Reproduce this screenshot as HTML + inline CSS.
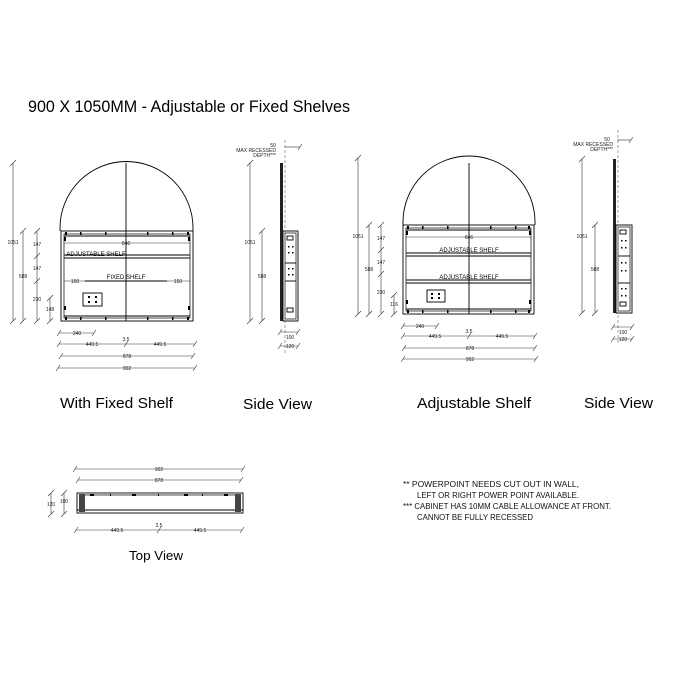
<!DOCTYPE html>
<html><head><meta charset="utf-8"><style>
html,body{margin:0;padding:0;background:#fff;}
svg{display:block;font-family:"Liberation Sans",Arial,sans-serif;}
.l{stroke:#000;stroke-width:0.9;fill:none}
.t{stroke:#000;stroke-width:0.7;fill:none}
.d{stroke:#333;stroke-width:0.6;fill:none}
.n{font-size:5px;fill:#222;text-anchor:middle}
</style></head><body>
<svg width="675" height="675" viewBox="0 0 675 675">
<text x="28" y="112" font-size="17" textLength="322" lengthAdjust="spacingAndGlyphs">900 X 1050MM - Adjustable or Fixed Shelves</text>

<!-- LEFT FRONT -->
<path class="l" d="M60 231 L60 228 A66 66 0 0 1 193 228 L193 231"/>
<rect class="l" x="61" y="231" width="132" height="90" stroke-width="1.6"/>
<rect class="t" x="64" y="234" width="126" height="84"/>
<line class="l" x1="64" y1="236" x2="190" y2="236"/><line class="l" x1="64" y1="316" x2="190" y2="316"/>
<g fill="#000">
<rect x="65" y="232" width="2" height="3"/><rect x="80" y="232" width="1.5" height="3"/><rect x="105" y="232" width="1.5" height="3"/><rect x="147" y="232" width="1.5" height="3"/><rect x="172" y="232" width="1.5" height="3"/><rect x="187" y="232" width="2" height="3"/>
<rect x="65" y="317" width="2" height="3"/><rect x="80" y="317" width="1.5" height="3"/><rect x="105" y="317" width="1.5" height="3"/><rect x="147" y="317" width="1.5" height="3"/><rect x="172" y="317" width="1.5" height="3"/><rect x="187" y="317" width="2" height="3"/>
<rect x="64" y="237" width="2" height="4"/><rect x="188" y="237" width="2" height="4"/><rect x="64" y="306" width="2" height="4"/><rect x="188" y="306" width="2" height="4"/>
</g>
<line class="l" x1="126" y1="163" x2="126" y2="321"/>
<line class="l" x1="64" y1="255" x2="190" y2="255"/><line class="l" x1="64" y1="258" x2="190" y2="258"/>
<line class="l" x1="85" y1="281" x2="167" y2="281" stroke-width="1.8"/>
<rect class="l" x="83" y="293" width="19" height="13"/>
<g fill="#000"><rect x="88" y="296" width="2" height="2"/><rect x="95" y="296" width="2" height="2"/><rect x="88" y="301" width="2" height="2"/><rect x="95" y="301" width="2" height="2"/></g>
<text x="96" y="256" font-size="6" text-anchor="middle">ADJUSTABLE SHELF</text>
<text x="126" y="279" font-size="6" text-anchor="middle">FIXED SHELF</text>
<line class="d" x1="64" y1="243" x2="190" y2="243"/><text class="n" x="126" y="245">846</text>
<line class="d" x1="64" y1="281" x2="85" y2="281"/><text class="n" x="75" y="283">150</text>
<line class="d" x1="167" y1="281" x2="190" y2="281"/><text class="n" x="178" y="283">150</text>
<g class="d">
<line x1="13" y1="163" x2="13" y2="321"/><line x1="10" y1="166" x2="16" y2="160"/><line x1="10" y1="324" x2="16" y2="318"/>
<line x1="23" y1="231" x2="23" y2="321"/><line x1="20" y1="234" x2="26" y2="228"/><line x1="20" y1="324" x2="26" y2="318"/>
<line x1="37" y1="231" x2="37" y2="321"/><line x1="34" y1="234" x2="40" y2="228"/><line x1="34" y1="259" x2="40" y2="253"/><line x1="34" y1="284" x2="40" y2="278"/><line x1="34" y1="324" x2="40" y2="318"/>
<line x1="50" y1="298" x2="50" y2="321"/><line x1="47" y1="301" x2="53" y2="295"/><line x1="47" y1="324" x2="53" y2="318"/>
</g>
<text class="n" x="13" y="244">1051</text><text class="n" x="23" y="278">588</text>
<text class="n" x="37" y="246">147</text><text class="n" x="37" y="270">147</text><text class="n" x="37" y="301">230</text><text class="n" x="50" y="311">148</text>
<g class="d">
<line x1="59" y1="333" x2="94" y2="333"/><line x1="57" y1="336" x2="61" y2="330"/><line x1="92" y1="336" x2="96" y2="330"/>
<line x1="59" y1="344" x2="195" y2="344"/><line x1="57" y1="347" x2="61" y2="341"/><line x1="124" y1="347" x2="128" y2="341"/><line x1="193" y1="347" x2="197" y2="341"/>
<line x1="61" y1="356" x2="193" y2="356"/><line x1="59" y1="359" x2="63" y2="353"/><line x1="191" y1="359" x2="195" y2="353"/>
<line x1="58" y1="368" x2="195" y2="368"/><line x1="56" y1="371" x2="60" y2="365"/><line x1="193" y1="371" x2="197" y2="365"/>
</g>
<text class="n" x="77" y="335">240</text><text class="n" x="92" y="346">449.5</text><text class="n" x="160" y="346">449.5</text><text class="n" x="126" y="341">3.5</text>
<text class="n" x="127" y="358">878</text><text class="n" x="127" y="370">902</text>

<!-- LEFT SIDE -->
<rect x="280" y="163" width="3" height="158" fill="#222"/>
<rect class="l" x="283" y="231" width="15" height="90" stroke-width="1.6"/>
<rect class="t" x="285" y="233" width="11" height="86"/>
<line class="l" x1="285" y1="263" x2="296" y2="263"/><line class="l" x1="285" y1="281" x2="296" y2="281"/>
<rect class="l" x="287" y="236" width="6" height="4"/><rect class="l" x="287" y="308" width="6" height="4"/>
<g fill="#000"><rect x="288" y="246" width="1.5" height="1.5"/><rect x="292" y="246" width="1.5" height="1.5"/><rect x="288" y="252" width="1.5" height="1.5"/><rect x="292" y="252" width="1.5" height="1.5"/><rect x="288" y="268" width="1.5" height="1.5"/><rect x="292" y="268" width="1.5" height="1.5"/><rect x="288" y="274" width="1.5" height="1.5"/><rect x="292" y="274" width="1.5" height="1.5"/></g>
<line x1="285" y1="140" x2="285" y2="355" stroke="#666" stroke-width="0.6" stroke-dasharray="3,2"/>
<g class="d">
<line x1="285" y1="147" x2="300" y2="147"/><line x1="298" y1="150" x2="302" y2="144"/>
<line x1="250" y1="163" x2="250" y2="321"/><line x1="247" y1="166" x2="253" y2="160"/><line x1="247" y1="324" x2="253" y2="318"/>
<line x1="262" y1="231" x2="262" y2="321"/><line x1="259" y1="234" x2="265" y2="228"/><line x1="259" y1="324" x2="265" y2="318"/>
<line x1="280" y1="332" x2="298" y2="332"/><line x1="278" y1="335" x2="282" y2="329"/><line x1="296" y1="335" x2="300" y2="329"/>
<line x1="280" y1="346" x2="298" y2="346"/><line x1="278" y1="349" x2="282" y2="343"/><line x1="296" y1="349" x2="300" y2="343"/>
</g>
<text class="n" x="273" y="147">50</text>
<text class="n" x="276" y="152" style="text-anchor:end">MAX RECESSED</text>
<text class="n" x="276" y="157" style="text-anchor:end">DEPTH***</text>
<text class="n" x="250" y="244">1051</text><text class="n" x="262" y="278">588</text>
<text class="n" x="290" y="339">100</text><text class="n" x="290" y="348">120</text>

<!-- RIGHT FRONT -->
<path class="l" d="M403 225 L403 222 A66 66 0 0 1 535 222 L535 225"/>
<rect class="l" x="403" y="225" width="131" height="89" stroke-width="1.6"/>
<rect class="t" x="406" y="228" width="125" height="83"/>
<line class="l" x1="406" y1="230" x2="531" y2="230"/><line class="l" x1="406" y1="309" x2="531" y2="309"/>
<g fill="#000">
<rect x="407" y="226" width="2" height="3"/><rect x="422" y="226" width="1.5" height="3"/><rect x="447" y="226" width="1.5" height="3"/><rect x="490" y="226" width="1.5" height="3"/><rect x="515" y="226" width="1.5" height="3"/><rect x="528" y="226" width="2" height="3"/>
<rect x="407" y="310" width="2" height="3"/><rect x="422" y="310" width="1.5" height="3"/><rect x="447" y="310" width="1.5" height="3"/><rect x="490" y="310" width="1.5" height="3"/><rect x="515" y="310" width="1.5" height="3"/><rect x="528" y="310" width="2" height="3"/>
<rect x="406" y="231" width="2" height="4"/><rect x="529" y="231" width="2" height="4"/><rect x="406" y="300" width="2" height="4"/><rect x="529" y="300" width="2" height="4"/>
</g>
<line class="l" x1="469" y1="163" x2="469" y2="314"/>
<line class="l" x1="406" y1="253" x2="531" y2="253"/><line class="l" x1="406" y1="256" x2="531" y2="256"/>
<line class="l" x1="406" y1="280" x2="531" y2="280"/><line class="l" x1="406" y1="283" x2="531" y2="283"/>
<rect class="l" x="427" y="290" width="18" height="12"/>
<g fill="#000"><rect x="431" y="293" width="2" height="2"/><rect x="438" y="293" width="2" height="2"/><rect x="431" y="297" width="2" height="2"/><rect x="438" y="297" width="2" height="2"/></g>
<text x="469" y="252" font-size="6" text-anchor="middle">ADJUSTABLE SHELF</text>
<text x="469" y="279" font-size="6" text-anchor="middle">ADJUSTABLE SHELF</text>
<line class="d" x1="406" y1="237" x2="531" y2="237"/><text class="n" x="469" y="239">846</text>
<g class="d">
<line x1="358" y1="158" x2="358" y2="314"/><line x1="355" y1="161" x2="361" y2="155"/><line x1="355" y1="317" x2="361" y2="311"/>
<line x1="369" y1="225" x2="369" y2="314"/><line x1="366" y1="228" x2="372" y2="222"/><line x1="366" y1="317" x2="372" y2="311"/>
<line x1="381" y1="225" x2="381" y2="314"/><line x1="378" y1="228" x2="384" y2="222"/><line x1="378" y1="253" x2="384" y2="247"/><line x1="378" y1="277" x2="384" y2="271"/><line x1="378" y1="317" x2="384" y2="311"/>
<line x1="394" y1="295" x2="394" y2="314"/><line x1="391" y1="298" x2="397" y2="292"/><line x1="391" y1="317" x2="397" y2="311"/>
<line x1="403" y1="326" x2="437" y2="326"/><line x1="401" y1="329" x2="405" y2="323"/><line x1="435" y1="329" x2="439" y2="323"/>
<line x1="403" y1="336" x2="535" y2="336"/><line x1="401" y1="339" x2="405" y2="333"/><line x1="467" y1="339" x2="471" y2="333"/><line x1="533" y1="339" x2="537" y2="333"/>
<line x1="404" y1="348" x2="535" y2="348"/><line x1="402" y1="351" x2="406" y2="345"/><line x1="533" y1="351" x2="537" y2="345"/>
<line x1="403" y1="359" x2="536" y2="359"/><line x1="401" y1="362" x2="405" y2="356"/><line x1="534" y1="362" x2="538" y2="356"/>
</g>
<text class="n" x="358" y="238">1051</text><text class="n" x="369" y="271">588</text>
<text class="n" x="381" y="240">147</text><text class="n" x="381" y="264">147</text><text class="n" x="381" y="294">230</text><text class="n" x="394" y="306">116</text>
<text class="n" x="420" y="328">240</text><text class="n" x="435" y="338">449.5</text><text class="n" x="502" y="338">449.5</text><text class="n" x="469" y="333">3.5</text>
<text class="n" x="470" y="350">878</text><text class="n" x="470" y="361">902</text>

<!-- RIGHT SIDE -->
<rect x="613" y="159" width="3" height="154" fill="#222"/>
<rect class="l" x="616" y="225" width="16" height="88" stroke-width="1.6"/>
<rect class="t" x="618" y="227" width="12" height="84"/>
<line class="l" x1="618" y1="256" x2="630" y2="256"/><line class="l" x1="618" y1="283" x2="630" y2="283"/>
<rect class="l" x="620" y="230" width="6" height="4"/><rect class="l" x="620" y="302" width="6" height="4"/>
<g fill="#000"><rect x="621" y="240" width="1.5" height="1.5"/><rect x="625" y="240" width="1.5" height="1.5"/><rect x="621" y="247" width="1.5" height="1.5"/><rect x="625" y="247" width="1.5" height="1.5"/><rect x="621" y="262" width="1.5" height="1.5"/><rect x="625" y="262" width="1.5" height="1.5"/><rect x="621" y="270" width="1.5" height="1.5"/><rect x="625" y="270" width="1.5" height="1.5"/><rect x="621" y="288" width="1.5" height="1.5"/><rect x="625" y="288" width="1.5" height="1.5"/><rect x="621" y="295" width="1.5" height="1.5"/><rect x="625" y="295" width="1.5" height="1.5"/></g>
<line x1="618" y1="130" x2="618" y2="345" stroke="#666" stroke-width="0.6" stroke-dasharray="3,2"/>
<g class="d">
<line x1="617" y1="140" x2="631" y2="140"/><line x1="629" y1="143" x2="633" y2="137"/>
<line x1="582" y1="159" x2="582" y2="313"/><line x1="579" y1="162" x2="585" y2="156"/><line x1="579" y1="316" x2="585" y2="310"/>
<line x1="595" y1="225" x2="595" y2="313"/><line x1="592" y1="228" x2="598" y2="222"/><line x1="592" y1="316" x2="598" y2="310"/>
<line x1="613" y1="327" x2="632" y2="327"/><line x1="611" y1="330" x2="615" y2="324"/><line x1="630" y1="330" x2="634" y2="324"/>
<line x1="613" y1="339" x2="632" y2="339"/><line x1="611" y1="342" x2="615" y2="336"/><line x1="630" y1="342" x2="634" y2="336"/>
</g>
<text class="n" x="607" y="141">50</text>
<text class="n" x="613" y="146" style="text-anchor:end">MAX RECESSED</text>
<text class="n" x="613" y="151" style="text-anchor:end">DEPTH***</text>
<text class="n" x="582" y="238">1051</text><text class="n" x="595" y="271">588</text>
<text class="n" x="623" y="334">100</text><text class="n" x="623" y="341">120</text>

<!-- captions -->
<text x="60" y="408" font-size="15" textLength="113" lengthAdjust="spacingAndGlyphs">With Fixed Shelf</text>
<text x="243" y="409" font-size="15" textLength="69" lengthAdjust="spacingAndGlyphs">Side View</text>
<text x="417" y="408" font-size="15" textLength="114" lengthAdjust="spacingAndGlyphs">Adjustable Shelf</text>
<text x="584" y="408" font-size="15" textLength="69" lengthAdjust="spacingAndGlyphs">Side View</text>

<!-- TOP VIEW -->
<rect class="l" x="77" y="493" width="166" height="20" stroke-width="1.3"/>
<rect class="t" x="80" y="495" width="160" height="15"/>
<line class="l" x1="77" y1="510" x2="243" y2="510"/>
<rect x="79" y="494" width="6" height="18" fill="#444"/><rect x="235" y="494" width="6" height="18" fill="#444"/>
<g fill="#000"><rect x="90" y="494" width="4" height="2"/><rect x="132" y="494" width="4" height="2"/><rect x="184" y="494" width="4" height="2"/><rect x="224" y="494" width="4" height="2"/><rect x="110" y="494" width="1" height="2"/><rect x="158" y="494" width="1" height="2"/><rect x="202" y="494" width="1" height="2"/></g>
<g class="d">
<line x1="75" y1="469" x2="243" y2="469"/><line x1="73" y1="472" x2="77" y2="466"/><line x1="241" y1="472" x2="245" y2="466"/>
<line x1="78" y1="480" x2="241" y2="480"/><line x1="76" y1="483" x2="80" y2="477"/><line x1="239" y1="483" x2="243" y2="477"/>
<line x1="51" y1="493" x2="51" y2="514"/><line x1="48" y1="496" x2="54" y2="490"/><line x1="48" y1="517" x2="54" y2="511"/>
<line x1="64" y1="493" x2="64" y2="514"/><line x1="61" y1="496" x2="67" y2="490"/><line x1="61" y1="517" x2="67" y2="511"/>
<line x1="76" y1="530" x2="242" y2="530"/><line x1="74" y1="533" x2="78" y2="527"/><line x1="157" y1="533" x2="161" y2="527"/><line x1="240" y1="533" x2="244" y2="527"/>
</g>
<text class="n" x="159" y="471">902</text><text class="n" x="159" y="482">878</text>
<text class="n" x="51" y="506">120</text><text class="n" x="64" y="503">100</text>
<text class="n" x="117" y="532">449.5</text><text class="n" x="200" y="532">449.5</text><text class="n" x="159" y="527">3.5</text>
<text x="129" y="560" font-size="13" textLength="54" lengthAdjust="spacingAndGlyphs">Top View</text>

<g font-size="8" fill="#111">
<text x="403" y="487" textLength="176" lengthAdjust="spacingAndGlyphs">**  POWERPOINT NEEDS CUT OUT IN WALL,</text>
<text x="417" y="498" textLength="162" lengthAdjust="spacingAndGlyphs">LEFT OR RIGHT POWER POINT AVAILABLE.</text>
<text x="403" y="509" textLength="208" lengthAdjust="spacingAndGlyphs">*** CABINET HAS 10MM CABLE ALLOWANCE AT FRONT.</text>
<text x="417" y="520" textLength="116" lengthAdjust="spacingAndGlyphs">CANNOT BE FULLY RECESSED</text>
</g>
</svg>
</body></html>
